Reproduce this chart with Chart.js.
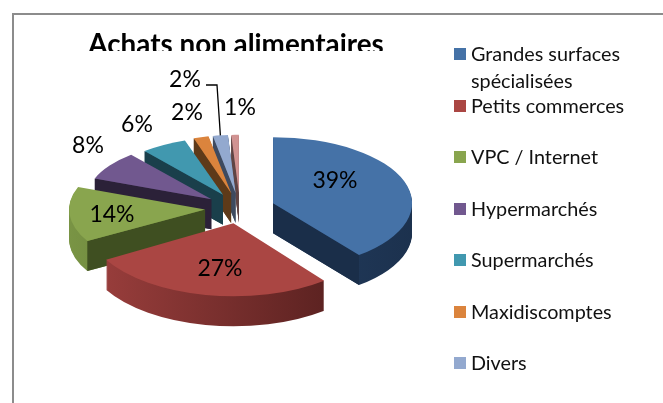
<!DOCTYPE html>
<html>
<head>
<meta charset="utf-8">
<style>
  html, body { margin: 0; background: #fff; }
  #wrap { position: relative; width: 663px; height: 403px; overflow: hidden; }
  #frame { position: absolute; left: 12px; top: 13px; width: 700px; height: 500px; border: 2px solid #8c8c8c; box-sizing: border-box; }
  canvas { position: absolute; left: 0; top: 0; }
  .entry { position: absolute; left: 471px; width: 170px; font: 19.8px/27px Lato; color: #111; }
  .entry i { position: absolute; left: -17px; top: 8px; width: 12px; height: 12px; }
</style>
<script src="https://cdn.jsdelivr.net/npm/chart.js@4"></script>
</head>
<body>
<div id="wrap">
  <div id="frame"></div>
  <canvas id="chart" width="663" height="403"></canvas>
  <div id="legend"></div>
</div>
<script>
const categories = ['Grandes surfaces spécialisées', 'Petits commerces', 'VPC / Internet', 'Hypermarchés', 'Supermarchés', 'Maxidiscomptes', 'Divers', ''];
const shares = [39, 27, 14, 8, 6, 2, 2, 1];
const topColors = ['#4572a7', '#aa4643', '#89a54e', '#71588f', '#4198af', '#db843d', '#93a9cf', '#d19392'];
const cutColors = ['#1a2e49', '#4a1c1b', '#3f4f21', '#2b2138', '#1a3f4b', '#5e3a19', '#3e4a5f', '#5f4444'];
const rimLeftColors = ['#2a4a73', '#a54341', '#7f9b48', '#493a5c', '#2b6676', '#8f5726', '#62718c', '#8d6463'];
const rimRightColors = ['#1a2e49', '#431716', '#3f4f21', '#2b2138', '#1a3f4b', '#5e3a19', '#3e4a5f', '#5f4444'];
const labelPlaces = [[335, 181], [220, 269], [112, 215], [88, 146], [137, 125], [187, 113], [185, 80], [240, 108]];

// the reference has perspective: front slices come out bigger than back ones
const rimX = [139, 147, 136, 125, 122, 120, 120, 120];
const rimY = [66, 73, 63, 58, 57, 58, 58, 58];

// pie is flattened and pulled apart here, Chart.js only knows a flat one
const squash = 0.44;
const depth = 30;
const explode = 35;
const radius = 136;
const shiftX = 4;
const drawOrder = [7, 6, 5, 4, 3, 0, 2, 1];

function apex(arc) {
  const mid = (arc.startAngle + arc.endAngle) / 2;
  return {
    x: arc.x + shiftX + Math.cos(mid) * explode,
    y: arc.y + Math.sin(mid) * explode * squash
  };
}

function paintArc(ctx, arc, i, down, color) {
  const p = apex(arc);
  ctx.save();
  ctx.translate(p.x, p.y + down);
  ctx.scale(rimX[i] / radius, rimY[i] / radius);
  ctx.translate(-arc.x, -arc.y);
  // arc options can be frozen, so draw through a throwaway copy
  const copy = Object.create(arc);
  copy.options = Object.assign({}, arc.options, { backgroundColor: color, borderWidth: 0 });
  arc.draw.call(copy, ctx);
  ctx.restore();
}

function cutWall(ctx, arc, i, angle, color) {
  const p = apex(arc);
  const bx = p.x + Math.cos(angle) * rimX[i];
  const by = p.y + Math.sin(angle) * rimY[i];
  ctx.fillStyle = color;
  ctx.beginPath();
  ctx.moveTo(p.x, p.y);
  ctx.lineTo(bx, by);
  ctx.lineTo(bx, by + depth);
  ctx.lineTo(p.x, p.y + depth);
  ctx.closePath();
  ctx.fill();
}

const pie3d = {
  id: 'pie3d',
  beforeDatasetDraw(chart, args) {
    const ctx = chart.ctx;
    const arcs = args.meta.data;
    // title is cut off just above its baseline in the picture
    ctx.fillStyle = '#fff';
    ctx.fillRect(60, 51, 350, 20);
    drawOrder.forEach(i => {
      const arc = arcs[i];
      const grad = ctx.createLinearGradient(arc.x + shiftX - radius - explode, 0, arc.x + shiftX + radius + explode, 0);
      grad.addColorStop(0, rimLeftColors[i]);
      grad.addColorStop(1, rimRightColors[i]);
      for (let d = depth; d > 0; d--) {
        paintArc(ctx, arc, i, d, grad);
      }
      if (Math.cos(arc.startAngle) < 0) cutWall(ctx, arc, i, arc.startAngle, cutColors[i]);
      if (Math.cos(arc.endAngle) > 0) cutWall(ctx, arc, i, arc.endAngle, cutColors[i]);
      paintArc(ctx, arc, i, 0, topColors[i]);
    });
    return false;
  },
  afterDatasetsDraw(chart) {
    const ctx = chart.ctx;
    ctx.save();
    ctx.fillStyle = '#000';
    ctx.font = '23px Lato';
    ctx.textAlign = 'center';
    ctx.textBaseline = 'middle';
    shares.forEach((v, i) => {
      ctx.fillText(v + '%', labelPlaces[i][0], labelPlaces[i][1]);
    });
    // leader line of the Divers label
    const arc = chart.getDatasetMeta(0).data[6];
    const mid = (arc.startAngle + arc.endAngle) / 2;
    const p = apex(arc);
    ctx.strokeStyle = '#000';
    ctx.lineWidth = 1.3;
    ctx.beginPath();
    ctx.moveTo(206, 85);
    ctx.lineTo(217, 85);
    ctx.lineTo(p.x + Math.cos(mid) * rimX[6], p.y + Math.sin(mid) * rimY[6]);
    ctx.stroke();
    ctx.restore();
  }
};

new Chart(document.getElementById('chart'), {
  type: 'pie',
  plugins: [pie3d],
  data: {
    labels: categories,
    datasets: [{
      data: shares,
      backgroundColor: topColors,
      borderWidth: 0,
      radius: radius
    }]
  },
  options: {
    responsive: false,
    animation: false,
    layout: { padding: { left: 0, right: 191, top: 28, bottom: 48 } },
    plugins: {
      tooltip: { enabled: false },
      legend: { display: false },
      title: {
        display: true,
        text: 'Achats non alimentaires',
        fullSize: false,
        color: '#000',
        font: { family: 'Lato', size: 27.8, weight: 'bold' },
        padding: { top: 0, bottom: 0 }
      }
    }
  }
});

// the 8th slice has no legend entry in the picture
const legendBox = document.getElementById('legend');
categories.forEach((name, i) => {
  if (!name) return;
  const row = document.createElement('div');
  row.className = 'entry';
  row.style.top = (40 + i * 51.5) + 'px';
  row.innerHTML = '<i style="background:' + topColors[i] + '"></i>' + name;
  legendBox.appendChild(row);
});
</script>
</body>
</html>
